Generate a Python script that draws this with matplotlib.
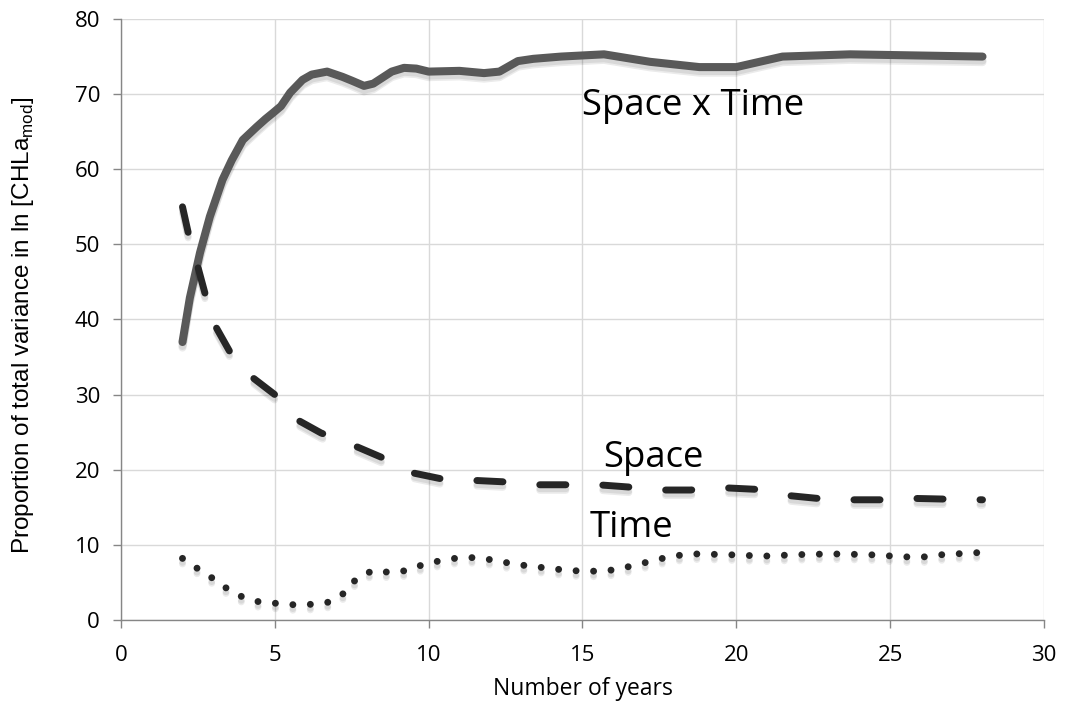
import matplotlib
matplotlib.use("Agg")
import matplotlib.pyplot as plt
import matplotlib.patheffects as pe

# ---- data ----
sxt_x = [2, 2.24, 2.57, 2.89, 3.3, 3.6, 3.96, 4.4, 4.7, 4.94, 5.2, 5.5, 5.9, 6.2, 6.7, 7.2,
         7.5, 7.9, 8.2, 8.5, 8.8, 9.2, 9.6, 10.0, 11.0, 11.8, 12.3, 12.9, 13.4, 14.3, 15.7,
         17.2, 18.8, 20.0, 21.5, 23.7, 28.0]
sxt_y = [37, 42.9, 48.9, 53.7, 58.6, 61.2, 63.9, 65.6, 66.7, 67.5, 68.4, 70.2, 71.9, 72.6, 73.0, 72.3,
         71.8, 71.1, 71.4, 72.2, 73.0, 73.5, 73.4, 73.0, 73.1, 72.8, 73.0, 74.4, 74.7, 75.0, 75.3,
         74.3, 73.6, 73.6, 75.0, 75.3, 75.0]

space_x = [2, 2.2, 2.5, 2.73, 3.1, 3.54, 4.3, 5.0, 5.75, 6.5, 7.7, 8.5, 9.46, 10.4, 11.4,
           12.4, 13.5, 15.5, 16.5, 17.5, 18.5, 19.6, 20.6, 21.6, 22.6, 23.6, 24.7, 25.6,
           26.7, 28]
space_y = [55, 51.3, 47, 43.5, 38.9, 35.7, 32.2, 30.0, 26.6, 24.9, 23.0, 21.6, 19.6, 18.8, 18.6,
           18.4, 18.0, 18.0, 17.7, 17.3, 17.3, 17.6, 17.4, 16.6, 16.2, 16.0, 16.0, 16.2,
           16.1, 16.0]

time_x = [2, 2.47, 2.96, 3.44, 3.93, 4.5, 5.1, 5.7, 6.25, 6.8, 7.3, 7.67, 8.2, 8.8, 9.3,
          9.9, 10.4, 11.0, 11.6, 12.2, 12.7, 13.4, 13.9, 14.5, 15.1, 15.7, 16.2, 16.8,
          17.4, 17.9, 18.6, 19.7, 20.9, 22.0, 23.1, 24.3, 25.5, 26.1, 26.7, 28.0]
time_y = [8.2, 6.9, 5.6, 4.2, 3.1, 2.4, 2.2, 2.0, 2.1, 2.4, 3.7, 5.6, 6.6, 6.3, 6.6,
          7.5, 7.9, 8.3, 8.3, 7.9, 7.5, 7.1, 6.9, 6.6, 6.5, 6.5, 6.8, 7.4,
          8.0, 8.5, 8.8, 8.7, 8.5, 8.7, 8.8, 8.7, 8.4, 8.4, 8.7, 9.0]

x_ticks = [0, 5, 10, 15, 20, 25, 30]
y_ticks = [0, 10, 20, 30, 40, 50, 60, 70, 80]
series_labels = ["Space x Time", "Space", "Time"]

plt.rcParams['lines.scale_dashes'] = False

fig = plt.figure(figsize=(10.78, 7.15), dpi=100)
ax = fig.add_axes([0.1122, 0.1329, 0.8563, 0.8405])

def shadow():
    return [pe.SimpleLineShadow(offset=(0, -4.0), shadow_color='#000000', alpha=0.08),
            pe.SimpleLineShadow(offset=(0, -2.8), shadow_color='#000000', alpha=0.08),
            pe.Normal()]

ax.plot(sxt_x, sxt_y, color='#595959', lw=5.8, solid_capstyle='round',
        solid_joinstyle='round', path_effects=shadow(), zorder=3)
ax.plot(space_x, space_y, color='#262626', lw=5.0, dashes=(18.8, 26.6),
        dash_capstyle='round', dash_joinstyle='round', path_effects=shadow(), zorder=4)
ax.plot(time_x, time_y, color='#262626', lw=5.0, dashes=(0.01, 12.6),
        dash_capstyle='round', path_effects=shadow(), zorder=4)

lab_font = dict(family='Open Sans', fontsize=26.3, color='black')
ax.text(15.0, 67.2, series_labels[0], va='baseline', ha='left', **lab_font)
ax.text(15.66, 20.4, series_labels[1], va='baseline', ha='left', **lab_font)
ax.text(15.24, 11.05, series_labels[2], va='baseline', ha='left', **lab_font)

ax.set_xlim(0, 30)
ax.set_ylim(0, 80)
ax.set_xticks(x_ticks)
ax.set_yticks(y_ticks)
ax.grid(True, color='#d9d9d9', lw=1.0)
ax.set_axisbelow(True)
for s in ['top', 'right']:
    ax.spines[s].set_visible(False)
for s in ['left', 'bottom']:
    ax.spines[s].set_color('#868686')
    ax.spines[s].set_linewidth(1.0)
ax.tick_params(axis='both', direction='out', length=6, width=1.0, color='#868686',
               labelsize=16, labelcolor='black')
ax.tick_params(axis='x', pad=12)
ax.tick_params(axis='y', pad=9)
for lbl in ax.get_xticklabels() + ax.get_yticklabels():
    lbl.set_family('Open Sans')

ax.set_xlabel('Number of years', family='Open Sans', fontsize=16.5, color='black')
ax.xaxis.set_label_coords(0.5, -0.095)
ax.set_ylabel(r'Proportion of total variance in ln [CHLa$_{\mathregular{mod}}$]',
              family='Liberation Sans', fontsize=17.5, color='black')
ax.yaxis.set_label_coords(-0.092, 0.491)

fig.savefig('out.png', dpi=100)
